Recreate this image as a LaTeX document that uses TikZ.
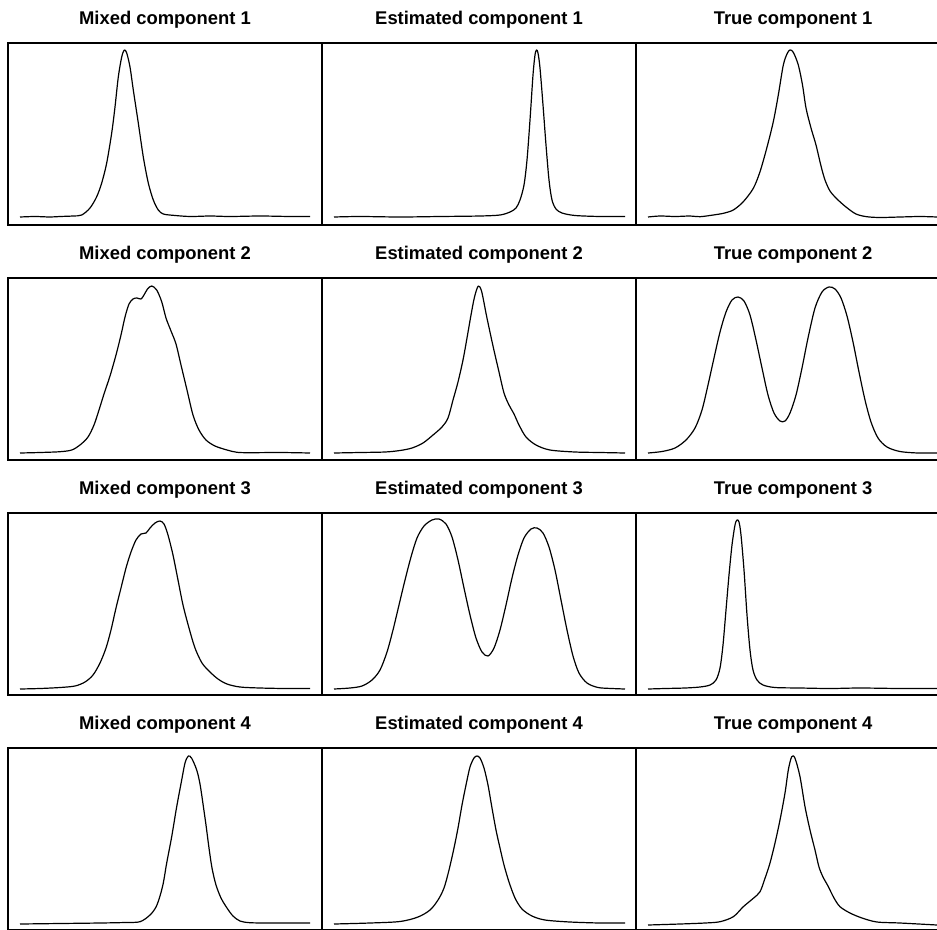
\documentclass[tikz,border=0pt]{standalone}
\usepackage{fontspec}
\setmainfont{Liberation Sans}
\begin{document}
\begin{tikzpicture}[x=1pt,y=-1pt,
  frame/.style={line width=1.3pt},
  curve/.style={line width=1.2pt, line join=round},
  ttl/.style={font=\bfseries\fontsize{18.4}{20}\selectfont, anchor=base, inner sep=0pt}]
\useasboundingbox (0,0) rectangle (937,929);
\clip (0,0) rectangle (937,929);
% frames
\foreach \c in {0,1,2} \foreach \r in {0,1,2,3}
  \draw[frame] ({8+314*\c},{43+235*\r}) rectangle +(314,182);
% titles
\node[ttl] (m1) at (165,24) {Mixed component 1};
\node[ttl] (e1) at (479,24) {Estimated component 1};
\node[ttl] (t1) at (793,24) {True component 1};
\node[ttl] (m2) at (165,259) {Mixed component 2};
\node[ttl] (e2) at (479,259) {Estimated component 2};
\node[ttl] (t2) at (793,259) {True component 2};
\node[ttl] (m3) at (165,494) {Mixed component 3};
\node[ttl] (e3) at (479,494) {Estimated component 3};
\node[ttl] (t3) at (793,494) {True component 3};
\node[ttl] (m4) at (165,729) {Mixed component 4};
\node[ttl] (e4) at (479,729) {Estimated component 4};
\node[ttl] (t4) at (793,729) {True component 4};
% row 1
\draw[curve] plot[smooth] coordinates {(20,217)(35,216.5)(50,217)(60,216.5)(73,216)(81.7,215)(90,208)(96.7,196.7)(101.7,183)(106.7,163)(111.7,133)(115,107)(118.3,77)(121.7,57)(124.3,50)(126.7,53)(130,67)(133.3,90)(138.3,123)(143.3,157)(148.3,183)(153.3,200)(158.3,210)(163.3,214)(173,215.3)(190,216.5)(210,216)(230,216.5)(260,216)(290,216.5)(310,216.5)};
\draw[curve] plot[smooth] coordinates {(334,217)(360,216.5)(400,217)(440,216.5)(480,216)(500,215)(510,212)(516,208)(520,200)(524,185)(527,160)(530,120)(533,75)(535,55)(536.5,50)(538,53)(540,68)(543,105)(546,145)(549,180)(552,200)(556,209)(562,213)(575,215.5)(600,216.5)(625,216.5)};
\draw[curve] plot[smooth] coordinates {(648,217)(660,216)(675,216.5)(690,216)(700,216.7)(713.3,215)(723.3,213.3)(733.3,210)(743.3,201.7)(753.3,188.3)(760,171.7)(766.7,148.3)(773.3,121.7)(778.3,95)(783.3,65)(787.3,53.3)(790,50)(793.3,52.3)(798.3,65)(802.5,85)(806,108)(811,128)(816,145)(821,166)(825,180)(830,191)(837,199)(846,207)(856,214)(866.7,216.7)(880,217.5)(900,217)(920,216.5)(937,217)};
% row 2
\draw[curve] plot[smooth] coordinates {(20,453)(40,452.5)(60,451.7)(71.7,450)(80,445)(88,437)(94,425)(99,410)(104,394)(110,376)(116,355)(121,335)(125,317)(129,304)(133,299)(137,298)(141,299)(144,295)(147.5,289)(151.7,286)(156.7,290)(161.7,301.7)(166,318)(171,331)(176,344)(181,365)(187,390)(193,415)(199,430)(206,440)(215,446)(227,450)(237,452.3)(250,452.7)(280,452.5)(310,453)};
\draw[curve] plot[smooth] coordinates {(334,453)(360,452.5)(385,452)(400,450.5)(412,448)(423,443)(433,435)(442,427)(448,418)(453,400)(458,382)(463,360)(467,338)(471,315)(474.5,297)(478.3,286)(481.7,291.7)(486.7,316.7)(493,346)(499,372)(504,393)(509,405)(514,414)(519,425)(526,437)(536,445)(550,450)(575,452)(600,452.5)(625,453)};
\draw[curve] plot[smooth] coordinates {(648,453)(662,451.5)(675,448)(686,440)(695,428)(702,410)(708,385)(714,358)(720,332)(726,312)(732,300)(738,297)(744,301)(750,315)(756,340)(762,368)(768,395)(774,413)(780,421)(785,421)(790,413)(796,395)(802,368)(808,338)(815,308)(822,292)(829,287)(835,289)(841,298)(847,316)(853,342)(859,372)(865,400)(871,422)(878,438)(887,447)(900,451.5)(918,453)(937,453)};
% row 3
\draw[curve] plot[smooth] coordinates {(20,689)(40,688.5)(60,687.5)(75,686)(85,682)(93,675)(100,663)(106,648)(111,630)(116,608)(121,588)(126,568)(131,552)(136,540)(141,534)(146,533)(150,528)(155,523)(160,521)(164,524)(168,535)(173,555)(178,580)(183,605)(189,628)(195,648)(202,663)(210,672)(218,679)(227,684)(240,687)(260,688)(285,688.5)(310,688.5)};
\draw[curve] plot[smooth] coordinates {(334,689)(350,688)(362,686)(372,680)(380,670)(387,652)(393,630)(399,605)(405,580)(411,557)(417,538)(424,526)(432,520)(439,519)(446,524)(452,537)(458,560)(464,588)(470,615)(476,638)(482,652)(488,656)(494,648)(500,630)(506,605)(512,578)(518,555)(524,538)(531,529)(537,528)(543,533)(549,547)(555,570)(561,600)(567,630)(573,656)(579,673)(587,683)(598,687.5)(612,688.5)(625,689)};
\draw[curve] plot[smooth] coordinates {(648,689)(665,688.5)(685,688)(700,687)(710,685)(716,680)(720,668)(723,645)(726,610)(729,575)(732,545)(735,525)(737,520)(739,522)(741,535)(744,570)(747,615)(750,650)(753,670)(757,680)(763,685)(775,687.5)(800,688)(830,688.5)(860,688)(900,688.5)(937,688.5)};
% row 4
\draw[curve] plot[smooth] coordinates {(20,924)(60,923.5)(100,923)(125,922.5)(140,921.7)(150,915)(156,907)(160,896)(163.3,883)(166.7,863)(171.7,836.7)(176.7,806.7)(181.7,780)(185,763)(188.3,756)(191.7,758.3)(196.7,770)(200,784)(203.3,806)(206,825)(209,848)(212,868)(216,885)(221,898)(227,908)(233,916)(240,921)(250,922.7)(270,923)(290,923)(310,923)};
\draw[curve] plot[smooth] coordinates {(334,924)(370,923)(400,921.5)(418,917)(430,910)(438,900)(444,888)(449,870)(454,848)(458,828)(462,805)(466,785)(470,767)(474,758)(477,756)(480,758)(484,768)(488,785)(492,808)(496,830)(500,848)(504,865)(509,882)(515,898)(522,909)(532,916)(545,920)(570,922)(600,923)(625,923)};
\draw[curve] plot[smooth] coordinates {(648,925)(680,924)(705,923)(720,921.7)(733.3,916.7)(743.3,906.7)(753.3,898.3)(760,891.7)(765,878.3)(770,863)(775,843)(780,820)(785,793)(788.3,770)(791.7,756.7)(795,758.3)(800,776.7)(805,806.7)(810,830)(815,850)(819,867)(823,877)(828,886)(834,898)(840,906.7)(850,913)(862,918)(877,922)(900,923)(937,925)};
\end{tikzpicture}
\end{document}
